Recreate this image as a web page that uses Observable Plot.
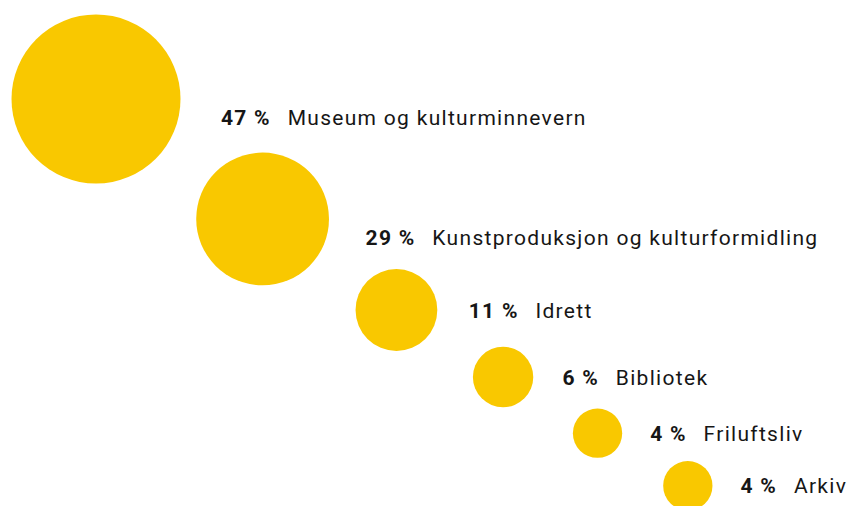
<!DOCTYPE html>
<html><head><meta charset="utf-8">
<script src="https://cdn.jsdelivr.net/npm/d3@7"></script>
<script src="https://cdn.jsdelivr.net/npm/@observablehq/plot@0.6"></script>
<style>body{margin:0;background:#fff;overflow:hidden}</style>
</head><body><div id="chart"></div>
<script>
// ---- data ----
const categories = ["Museum og kulturminnevern", "Kunstproduksjon og kulturformidling", "Idrett", "Bibliotek", "Friluftsliv", "Arkiv"];
const shares = [47, 29, 11, 6, 4, 4];
const shareLabels = ["47 %", "29 %", "11 %", "6 %", "4 %", "4 %"];

// ---- style / layout settings ----
const W = 850, H = 506;
const FONT = "Roboto, sans-serif", FS = 21, LS = 1.3;
const FILL = "#F9C800", INK = "#161616";
const rOpts = {type: "sqrt", domain: [0, d3.max(shares)], range: [0, 84.5]};
const rScale = Plot.scale({r: rOpts});

function measure(str, weight) {
  const svg = d3.select("body").append("svg").attr("width", 10).attr("height", 10);
  const t = svg.append("text").attr("font-family", FONT).attr("font-size", FS)
    .attr("font-weight", weight).style("letter-spacing", LS + "px").text(str);
  const w = t.node().getComputedTextLength();
  svg.remove();
  return w;
}

// diagonal bubble layout derived from the radii
const rows = [];
let cx = 0, cy = 0, prevR = 0;
categories.forEach((name, i) => {
  const r = rScale.apply(shares[i]);
  if (i === 0) { cx = 11 + r; cy = 14 + r; }
  else { const s = prevR + r; cx += 0.7513 * s + 53.25; cy += 0.664 * s + 19.8; }
  const labelX = cx + r + 22.9 + 0.207 * r;
  const labelY = cy + (r > 50 ? 18 : 0) + 0.8;
  const nameX = labelX + measure(shareLabels[i], "bold") + 18 - LS;
  rows.push({name, value: shares[i], pct: shareLabels[i], cx, cy, labelX, labelY, nameX});
  prevR = r;
});

const chart = Plot.plot({
  width: W, height: H, margin: 0,
  x: {type: "identity", axis: null}, y: {type: "identity", axis: null},
  r: rOpts,
  style: {fontFamily: FONT, letterSpacing: LS + "px", background: "#fff"},
  marks: [
    Plot.dot(rows, {x: "cx", y: "cy", r: "value", fill: FILL, stroke: null}),
    Plot.text(rows, {x: "labelX", y: "labelY", text: "pct", textAnchor: "start", fontWeight: "bold", fontSize: FS, fill: INK}),
    Plot.text(rows, {x: "nameX", y: "labelY", text: "name", textAnchor: "start", fontSize: FS, fill: INK})
  ]
});
document.getElementById("chart").append(chart);
</script>
</body></html>
